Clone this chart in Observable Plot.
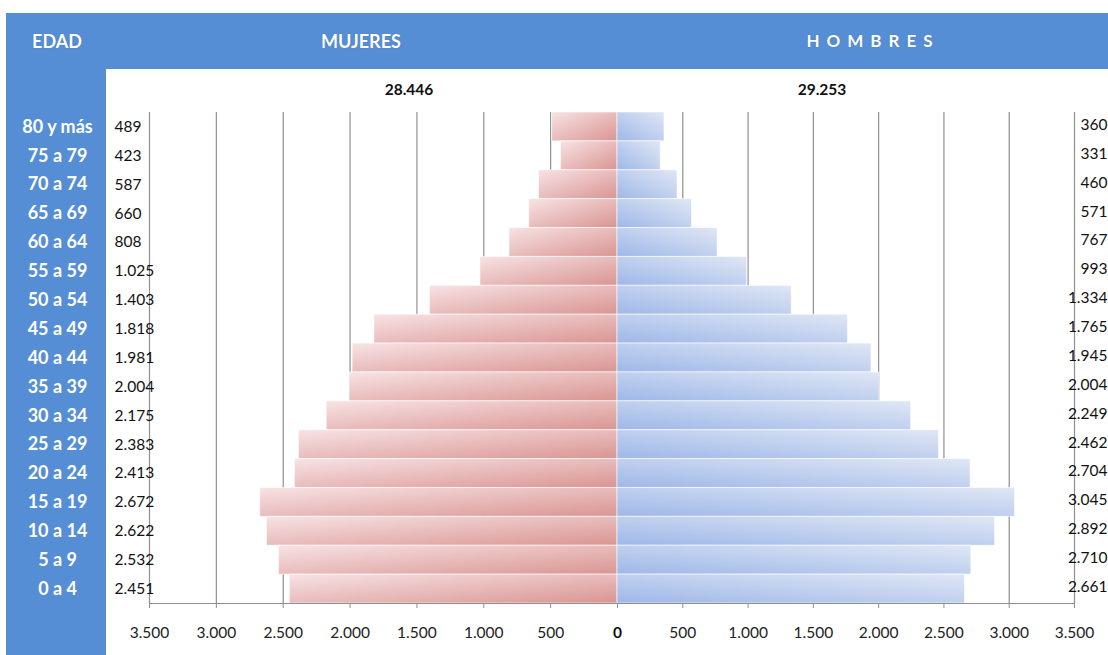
<!DOCTYPE html>
<html>
<head>
<meta charset="utf-8">
<script src="https://cdn.jsdelivr.net/npm/d3@7"></script>
<script src="https://cdn.jsdelivr.net/npm/@observablehq/plot@0.6"></script>
<style>
  body { margin: 0; background: #fff; font-family: Lato, "Open Sans", sans-serif; }
  #wrap { position: relative; width: 1108px; height: 655px; overflow: hidden; }
  .band { position: absolute; background: #558ed5; }
  #band-top { left: 6px; top: 13px; width: 1102px; height: 56px; }
  #band-side { left: 6px; top: 13px; width: 100px; height: 642px; }
  .hdr { position: absolute; top: 13px; height: 56px; line-height: 56px; color: #fff;
         font-weight: 700; font-size: 18px; white-space: nowrap; transform: translateX(-50%);
         text-shadow: 0 0 1px rgba(0,0,0,0.25); }
  #chart { position: absolute; left: 0; top: 0; }
</style>
</head>
<body>
<div id="wrap">
  <div class="band" id="band-top"></div>
  <div class="band" id="band-side"></div>
  <div class="hdr" id="h-edad" style="left:57px"></div>
  <div class="hdr" id="h-muj" style="left:361px"></div>
  <div class="hdr" id="h-hom" style="left:873px; letter-spacing:7px; font-size:17px"></div>
  <div id="chart"></div>
</div>
<script>
// Column headings
const headings = ["EDAD", "MUJERES", "HOMBRES"];

// Age groups, oldest first (top of the pyramid)
const edades = ["80 y más", "75 a 79", "70 a 74", "65 a 69", "60 a 64", "55 a 59",
  "50 a 54", "45 a 49", "40 a 44", "35 a 39", "30 a 34", "25 a 29", "20 a 24",
  "15 a 19", "10 a 14", "5 a 9", "0 a 4"];

// Population by age group
const mujeres = [489, 423, 587, 660, 808, 1025, 1403, 1818, 1981, 2004, 2175, 2383,
  2413, 2672, 2622, 2532, 2451];
const hombres = [360, 331, 460, 571, 767, 993, 1334, 1765, 1945, 2004, 2249, 2462,
  2704, 3045, 2892, 2710, 2661];

// Axis ticks (women to the left of zero)
const ticks = [-3500, -3000, -2500, -2000, -1500, -1000, -500, 0,
  500, 1000, 1500, 2000, 2500, 3000, 3500];

document.getElementById("h-edad").textContent = headings[0];
document.getElementById("h-muj").textContent = headings[1];
document.getElementById("h-hom").textContent = headings[2];

const es = d3.formatLocale({decimal: ",", thousands: ".", grouping: [3], currency: ["", ""]});
const fmt = es.format(",d");

const rows = edades.map((edad, i) => ({edad, mujeres: mujeres[i], hombres: hombres[i]}));
const totalMuj = d3.sum(mujeres);
const totalHom = d3.sum(hombres);

const grid = "#8f8f8f";

const svg = Plot.plot({
  width: 1108,
  height: 655,
  marginTop: 112,
  marginBottom: 52,
  marginLeft: 149,
  marginRight: 34,
  style: {background: "transparent", fontFamily: "Lato, 'Open Sans', sans-serif", fontSize: "15.5px"},
  x: {type: "linear", domain: [-3500, 0, 3500], range: [149, 617, 1074]},
  y: {type: "band", domain: edades, padding: 0, round: false},
  marks: [
    Plot.gridX(ticks, {stroke: grid, strokeOpacity: 1, strokeWidth: 1.2}),
    Plot.barX(rows, {y: "edad", x: d => -d.mujeres, fill: "url(#grad-muj)",
      stroke: "#fff", strokeOpacity: 0.6, strokeWidth: 1}),
    Plot.barX(rows, {y: "edad", x: "hombres", fill: "url(#grad-hom)",
      stroke: "#fff", strokeOpacity: 0.6, strokeWidth: 1}),
    Plot.frame({anchor: "bottom", stroke: grid, strokeWidth: 1.2}),
    Plot.axisX({ticks: ticks.filter(t => t !== 0), tickFormat: d => fmt(Math.abs(d)),
      tickSize: 5, tickPadding: 18, stroke: grid, fill: "#222", label: null}),
    Plot.axisX({ticks: [0], tickFormat: () => "0", fontWeight: "bold",
      tickSize: 5, tickPadding: 18, stroke: grid, fill: "#111", label: null}),
    Plot.axisY({tickSize: 0, tickPadding: 92, textAnchor: "middle", fill: "#fff",
      fontWeight: "bold", fontSize: 18, label: null}),
    Plot.text(rows, {y: "edad", text: d => fmt(d.mujeres), frameAnchor: "left",
      textAnchor: "start", dx: -35, fill: "#111"}),
    Plot.text(rows, {y: "edad", text: d => fmt(d.hombres), frameAnchor: "right",
      textAnchor: "end", dx: 33, dy: -2, fill: "#111"}),
    Plot.text([totalMuj], {text: d => fmt(d), frameAnchor: "top", dx: -203, dy: -22,
      lineAnchor: "middle", fontWeight: "bold", fill: "#111"}),
    Plot.text([totalHom], {text: d => fmt(d), frameAnchor: "top", dx: 210, dy: -22,
      lineAnchor: "middle", fontWeight: "bold", fill: "#111"})
  ]
});

// Diagonal gradient fills for the bars
const ns = "http://www.w3.org/2000/svg";
const defs = document.createElementNS(ns, "defs");
function gradient(id, x1, y1, x2, y2, c1, c2) {
  const g = document.createElementNS(ns, "linearGradient");
  g.setAttribute("id", id);
  g.setAttribute("x1", x1); g.setAttribute("y1", y1);
  g.setAttribute("x2", x2); g.setAttribute("y2", y2);
  [[0, c1], [1, c2]].forEach(([o, c]) => {
    const s = document.createElementNS(ns, "stop");
    s.setAttribute("offset", o);
    s.setAttribute("stop-color", c);
    g.appendChild(s);
  });
  defs.appendChild(g);
}
gradient("grad-muj", 0, 0, 1, 1, "#f8e3e5", "#d99592");
gradient("grad-hom", 0, 1, 1, 0, "#9fb8e8", "#e0e7f5");
svg.insertBefore(defs, svg.firstChild);

document.getElementById("chart").appendChild(svg);
</script>
</body>
</html>
